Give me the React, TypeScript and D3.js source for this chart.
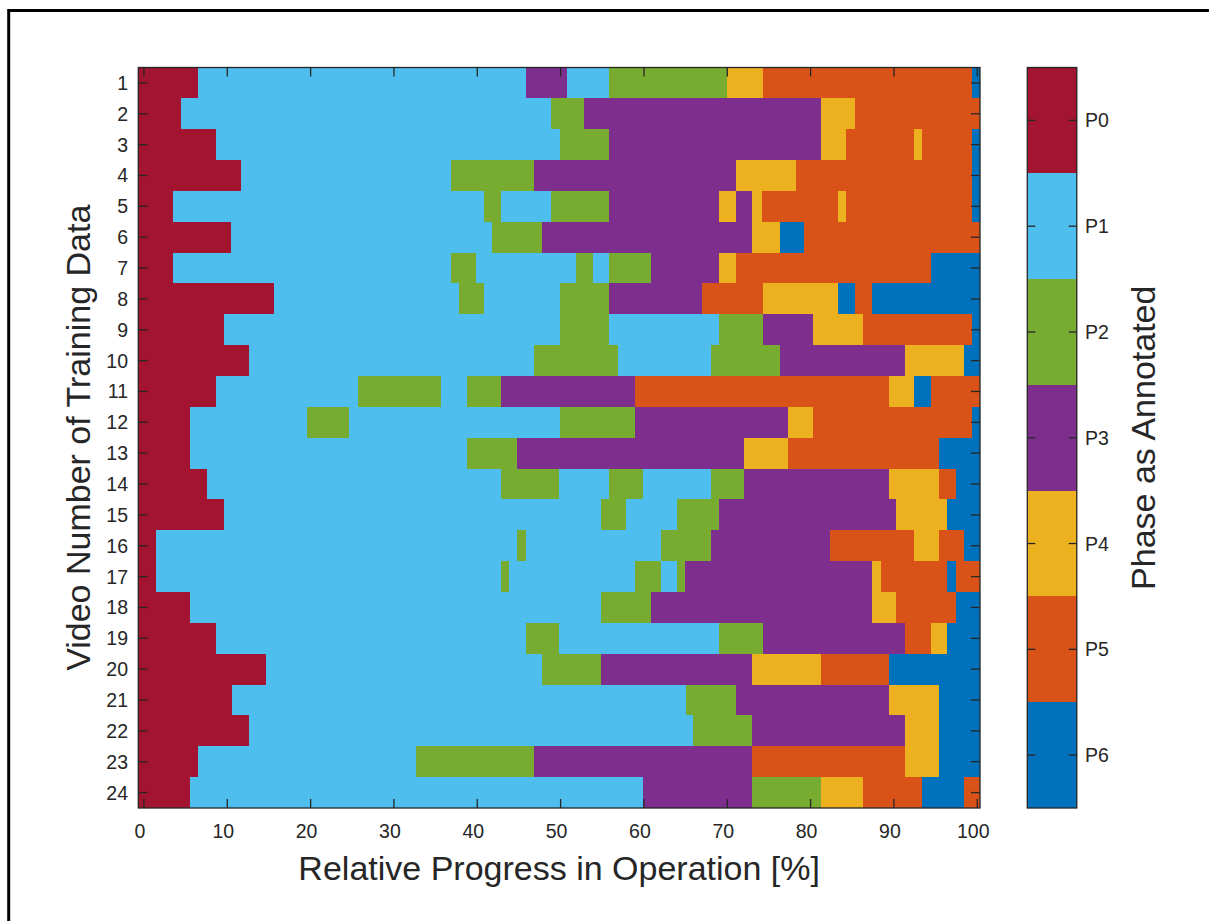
import React from "react";
import * as d3 from "d3";

// phase sequence of each video (row), left to right
const runPhases: number[][] = [
  [0, 1, 3, 1, 2, 4, 5, 6],
  [0, 1, 2, 3, 4, 5],
  [0, 1, 2, 3, 4, 5, 4, 5, 6],
  [0, 1, 2, 3, 4, 5, 6],
  [0, 1, 2, 1, 2, 3, 4, 3, 4, 5, 4, 5, 6],
  [0, 1, 2, 3, 4, 6, 5],
  [0, 1, 2, 1, 2, 1, 2, 3, 4, 5, 6],
  [0, 1, 2, 1, 2, 3, 5, 4, 6, 5, 6],
  [0, 1, 2, 1, 2, 3, 4, 5, 6],
  [0, 1, 2, 1, 2, 3, 4, 6],
  [0, 1, 2, 1, 2, 3, 5, 4, 6, 5],
  [0, 1, 2, 1, 2, 3, 4, 5, 6],
  [0, 1, 2, 3, 4, 5, 6],
  [0, 1, 2, 1, 2, 1, 2, 3, 4, 5, 6],
  [0, 1, 2, 1, 2, 3, 4, 6],
  [0, 1, 2, 1, 2, 3, 5, 4, 5, 6],
  [0, 1, 2, 1, 2, 1, 2, 3, 4, 5, 6, 5],
  [0, 1, 2, 3, 4, 5, 6],
  [0, 1, 2, 1, 2, 3, 5, 4, 6],
  [0, 1, 2, 3, 4, 5, 6],
  [0, 1, 2, 3, 4, 6],
  [0, 1, 2, 3, 4, 6],
  [0, 1, 2, 3, 5, 4, 6],
  [0, 1, 3, 2, 4, 5, 6, 5],
];

// progress [%] where each phase switches to the next one
const runBreaks: number[][] = [
  [6.5, 45.8, 50.8, 55.8, 70.0, 74.3, 99.4],
  [4.5, 48.9, 52.8, 81.3, 85.3],
  [8.6, 49.9, 55.8, 81.3, 84.3, 92.4, 93.4, 99.4],
  [11.6, 36.8, 46.8, 71.0, 78.3, 99.4],
  [3.5, 40.8, 42.8, 48.9, 55.8, 69.0, 71.0, 73.0, 74.2, 83.3, 84.3, 99.4],
  [10.5, 41.8, 47.8, 73.0, 76.3, 79.2],
  [3.5, 36.8, 39.8, 51.9, 53.9, 55.8, 60.9, 69.0, 71.0, 94.4],
  [15.6, 37.8, 40.8, 49.9, 55.8, 67.0, 74.3, 83.3, 85.3, 87.4],
  [9.6, 49.9, 55.8, 69.0, 74.3, 80.3, 86.3, 99.4],
  [12.6, 46.8, 56.9, 68.0, 76.3, 91.3, 98.4],
  [8.6, 25.7, 35.7, 38.8, 42.8, 58.9, 89.4, 92.4, 94.4],
  [5.5, 19.6, 24.6, 49.9, 58.9, 77.3, 80.3, 99.4],
  [5.5, 38.8, 44.8, 72.0, 77.3, 95.4],
  [7.6, 42.8, 49.8, 55.8, 59.9, 68.0, 72.0, 89.4, 95.4, 97.4],
  [9.6, 54.9, 57.9, 64.0, 69.0, 90.3, 96.4],
  [1.5, 44.8, 45.8, 62.0, 68.0, 82.3, 92.4, 95.4, 98.4],
  [1.5, 42.8, 43.8, 58.9, 62.0, 64.0, 64.9, 87.4, 88.4, 96.4, 97.4],
  [5.5, 54.9, 60.9, 87.4, 90.3, 97.4],
  [8.6, 45.8, 49.8, 69.0, 74.3, 91.3, 94.4, 96.4],
  [14.6, 47.8, 54.9, 73.0, 81.3, 89.4],
  [10.6, 65.0, 71.0, 89.4, 95.4],
  [12.6, 65.9, 73.0, 91.3, 95.4],
  [6.5, 32.7, 46.8, 73.0, 91.3, 95.4],
  [5.5, 59.9, 73.0, 81.3, 86.3, 93.4, 98.4],
];

const videoLabels = d3.range(1, 25).map(String);
const xTicks = [0, 10, 20, 30, 40, 50, 60, 70, 80, 90, 100];
const phaseLabels = ["P0", "P1", "P2", "P3", "P4", "P5", "P6"];
const phaseColors = ["#A2142F", "#4DBEEE", "#77AC30", "#7E2F8E", "#EDB120", "#D95319", "#0072BD"];

const W = 1209;
const H = 921;
const FONT = "'Liberation Sans', Arial, Helvetica, sans-serif";
const AXIS = "#262626";

export default function App() {
  const left = 138.3, right = 980, top = 67.5, bottom = 808;
  const xMin = -0.68, xMax = 100.33;

  const x = d3.scaleLinear().domain([xMin, xMax]).range([left, right]);
  const y = d3.scaleBand().domain(videoLabels).range([top, bottom]).paddingInner(0);
  const rowH = y.bandwidth();

  const cbLeft = 1027.3, cbRight = 1076.8;
  const cbY = d3.scaleBand().domain(phaseLabels).range([top, bottom]);

  const color = d3.scaleOrdinal<number, string>().domain(d3.range(7)).range(phaseColors);

  const cells: { key: string; x0: number; x1: number; y0: number; fill: string }[] = [];
  runPhases.forEach((phases, r) => {
    const edges = [xMin, ...runBreaks[r], xMax];
    phases.forEach((p, i) => {
      cells.push({
        key: `${r}-${i}`,
        x0: x(edges[i]),
        x1: x(edges[i + 1]),
        y0: y(videoLabels[r]) as number,
        fill: color(p),
      });
    });
  });

  const tickLen = 9;

  return (
    <svg
      width={W}
      height={H}
      style={{ position: "absolute", left: 0, top: 0, background: "#fff" }}
      fontFamily={FONT}
    >
      <rect x={0} y={0} width={W} height={H} fill="#fff" />
      <rect x={8.7} y={10.5} width={1400} height={1000} fill="none" stroke="#000" strokeWidth={3} />

      {/* heatmap */}
      {cells.map(c => (
        <rect
          key={c.key}
          x={c.x0}
          y={c.y0}
          width={c.x1 - c.x0 + 0.4}
          height={rowH + 0.4}
          fill={c.fill}
          shapeRendering="crispEdges"
        />
      ))}

      {/* axes box and ticks */}
      <rect x={left} y={top} width={right - left} height={bottom - top} fill="none" stroke={AXIS} strokeWidth={1.3} />
      {xTicks.map(t => (
        <g key={`xt${t}`}>
          <line x1={x(t)} x2={x(t)} y1={bottom} y2={bottom - tickLen} stroke={AXIS} strokeWidth={1.3} />
          <line x1={x(t)} x2={x(t)} y1={top} y2={top + tickLen} stroke={AXIS} strokeWidth={1.3} />
          <text x={x(t) - 4} y={838} textAnchor="middle" fontSize={19.5} fill={AXIS}>
            {t}
          </text>
        </g>
      ))}
      {videoLabels.map(v => {
        const cy = (y(v) as number) + rowH / 2;
        return (
          <g key={`yt${v}`}>
            <line x1={left} x2={left + tickLen} y1={cy} y2={cy} stroke={AXIS} strokeWidth={1.3} />
            <line x1={right} x2={right - tickLen} y1={cy} y2={cy} stroke={AXIS} strokeWidth={1.3} />
            <text x={128} y={cy + 7} textAnchor="end" fontSize={19.5} fill={AXIS}>
              {v}
            </text>
          </g>
        );
      })}

      <text x={(left + right) / 2} y={880} textAnchor="middle" fontSize={34} fill={AXIS}>
        Relative Progress in Operation [%]
      </text>
      <text
        transform={`translate(90,${(top + bottom) / 2}) rotate(-90)`}
        textAnchor="middle"
        fontSize={34}
        fill={AXIS}
      >
        Video Number of Training Data
      </text>

      {/* colorbar */}
      {phaseLabels.map((p, i) => {
        const y0 = cbY(p) as number;
        const cy = y0 + cbY.bandwidth() / 2;
        return (
          <g key={p}>
            <rect
              x={cbLeft}
              y={y0}
              width={cbRight - cbLeft}
              height={cbY.bandwidth() + 0.4}
              fill={phaseColors[i]}
              shapeRendering="crispEdges"
            />
            <line x1={cbLeft} x2={cbLeft + 8} y1={cy} y2={cy} stroke={AXIS} strokeWidth={1.3} />
            <line x1={cbRight} x2={cbRight - 8} y1={cy} y2={cy} stroke={AXIS} strokeWidth={1.3} />
            <text x={1085} y={cy + 7} fontSize={19.5} fill={AXIS}>
              {p}
            </text>
          </g>
        );
      })}
      <rect
        x={cbLeft}
        y={top}
        width={cbRight - cbLeft}
        height={bottom - top}
        fill="none"
        stroke={AXIS}
        strokeWidth={1.3}
      />
      <text
        transform={`translate(1155,${(top + bottom) / 2}) rotate(-90)`}
        textAnchor="middle"
        fontSize={34}
        fill={AXIS}
      >
        Phase as Annotated
      </text>
    </svg>
  );
}
